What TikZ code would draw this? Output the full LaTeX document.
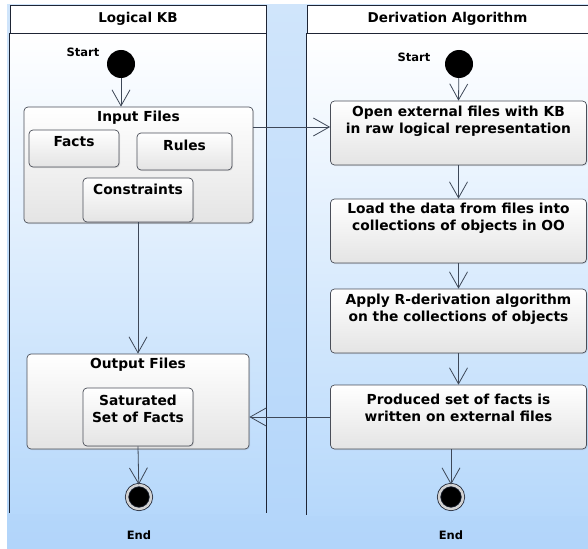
\documentclass[tikz,border=0pt]{standalone}
\usepackage{fontspec}
\setmainfont{DejaVu Sans}
\usepackage{xcolor}
\usetikzlibrary{positioning,arrows.meta,shadows}

\definecolor{bgtop}{HTML}{D0E5FB}
\definecolor{bgbot}{HTML}{B2D5FA}
\definecolor{lanebot}{HTML}{B6D8FB}
\definecolor{edge}{HTML}{1E2535}
\definecolor{boxline}{HTML}{4A4E58}
\definecolor{boxgray}{HTML}{E4E4E4}
\definecolor{arrline}{HTML}{3E4858}

\begin{document}
\begin{tikzpicture}[x=1pt, y=-1pt,
  head/.style={draw=edge, fill=white, line width=0.6pt, minimum width=#1, minimum height=28pt, inner sep=0pt, font=\bfseries\fontsize{13.5}{15}\selectfont},
  act/.style={draw=boxline, line width=0.7pt, rounded corners=4pt, top color=white, bottom color=boxgray, drop shadow={opacity=0.2, shadow xshift=1pt, shadow yshift=-1pt}, inner sep=0pt},
  lbl/.style={font=\bfseries\fontsize{13.8}{17.5}\selectfont, align=center, inner sep=0pt},
  small/.style={font=\bfseries\fontsize{11.5}{13}\selectfont, inner sep=0pt},
  startst/.style={circle, fill=black, minimum size=28pt, inner sep=0pt},
  endst/.style={circle, draw=edge, double=gray!35, double distance=2.5pt, line width=0.8pt, fill=black, minimum size=24pt, inner sep=0pt},
  lane/.style={draw=edge, line width=0.8pt},
  flow/.style={draw=arrline, line width=0.8pt, -{Straight Barb[length=16pt, width=18pt]}},
]
\useasboundingbox (0,0) rectangle (588,548);
\clip (0,0) rectangle (588,548);
\fill[white] (0,0) rectangle (588,548);
\fill[top color=bgtop, bottom color=bgbot] (7,5) rectangle (588,548);
\fill[top color=white, bottom color=lanebot] (10,33) rectangle (266,513);
\fill[top color=white, bottom color=lanebot] (307,33) rectangle (588,515);

\node[head=256] (lanekb) at (138,19) {Logical KB};
\node[head=281] (laneder) at (447.5,19) {Derivation Algorithm};
\draw[lane] (lanekb.south west) -- ++(0,480);
\draw[lane] (lanekb.south east) -- ++(0,480);
\draw[lane] (laneder.south west) -- ++(0,482);

\node[small] (startLt) at (83,52) {Start};
\node[startst] (startL) at (121,64) {};
\node[act, minimum width=229, minimum height=116] (inputF) at (138.5,165) {};
\node[lbl] (inputFt) at (138.5,118) {Input Files};
\node[act, minimum width=90, minimum height=37] (facts) at (74,148.5) {};
\node[lbl] (factst) at (74,142) {Facts};
\node[act, minimum width=95, minimum height=37] (rules) at (184.5,151.5) {};
\node[lbl] (rulest) at (184.5,145) {Rules};
\node[act, minimum width=110, minimum height=44] (constr) at (138,200) {};
\node[lbl] (constrt) at (138,189) {Constraints};
\node[act, minimum width=222, minimum height=95] (outputF) at (138,401.5) {};
\node[lbl] (outputFt) at (138,365) {Output Files};
\node[act, minimum width=110, minimum height=58] (satur) at (138,417) {};
\node[lbl] (saturt) at (138,409) {Saturated\\Set of Facts};
\node[endst] (endL) at (139,497) {};
\node[small] (endLt) at (139,535) {End};

\node[small] (startRt) at (414,57) {Start};
\node[startst] (startR) at (459,64) {};
\node[act, minimum width=256, minimum height=64] (open) at (458.5,133) {};
\node[lbl] (opent) at (458.5,121) {Open external files with KB\\in raw logical representation};
\node[act, minimum width=256, minimum height=64] (load) at (458.5,231) {};
\node[lbl] (loadt) at (458.5,218) {Load the data from files into\\collections of objects in OO};
\node[act, minimum width=256, minimum height=64] (apply) at (458.5,321) {};
\node[lbl] (applyt) at (458.5,309) {Apply R-derivation algorithm\\on the collections of objects};
\node[act, minimum width=256, minimum height=64] (produced) at (458.5,417) {};
\node[lbl] (producedt) at (458.5,408) {Produced set of facts is\\written on external files};
\node[endst] (endR) at (451,497) {};
\node[small] (endRt) at (451,535) {End};

\draw[flow] (startL) -- (startL |- inputF.north);
\draw[flow] ([yshift=6pt]open.west -| inputF.east) -- ([yshift=6pt]open.west);
\draw[flow] (constr.south) -- (outputF.north);
\draw[flow] (satur.south) -- (endL);
\draw[flow] (startR) -- (open.north);
\draw[flow] (open.south) -- (load.north);
\draw[flow] (load.south) -- (apply.north);
\draw[flow] (apply.south) -- (produced.north);
\draw[flow] (produced.south -| endR) -- (endR);
\draw[flow] (produced.west) -- (produced.west -| outputF.east);
\end{tikzpicture}
\end{document}
